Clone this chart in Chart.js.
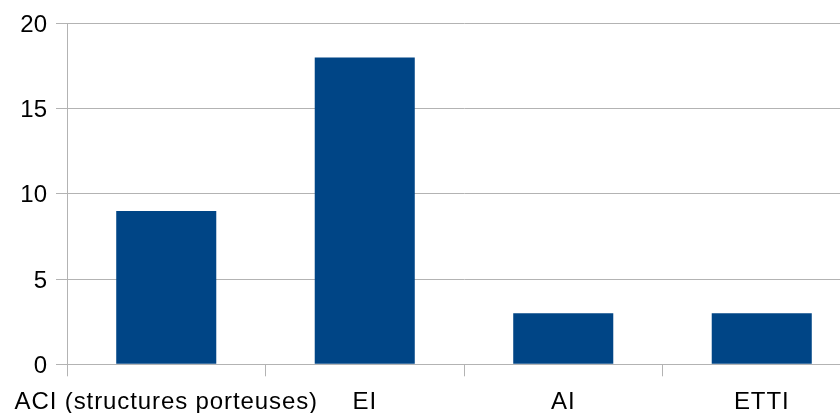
<!DOCTYPE html>
<html>
<head>
<meta charset="utf-8">
<script src="https://cdn.jsdelivr.net/npm/chart.js@4/dist/chart.umd.min.js"></script>
<style>
  html, body { margin: 0; padding: 0; background: #fff; overflow: hidden; }
  #wrap { width: 840px; height: 413px; overflow: hidden; position: relative; }
  #box { width: 861px; height: 413px; position: absolute; left: 0; top: 0; }
</style>
</head>
<body>
<div id="wrap"><div id="box"><canvas id="chart"></canvas></div></div>
<script>
// categories and counts
const categories = ["ACI (structures porteuses)", "EI", "AI", "ETTI"];
const counts = [9, 18, 3, 3];
const yTicks = [0, 5, 10, 15, 20];

const gridColor = "#b3b3b3";
const barColor = "#004586";
const font = { family: "'Liberation Sans', Arial, sans-serif", size: 24 };

// category labels are drawn slightly spaced out
function spaceLabels(scale) {
  if (scale._spaced) return;
  const orig = scale.drawLabels.bind(scale);
  scale.drawLabels = area => {
    const c = scale.ctx;
    c.save();
    c.letterSpacing = "0.9px";
    orig(area);
    c.restore();
  };
  scale._spaced = true;
}

const ctx = document.getElementById("chart").getContext("2d");

new Chart(ctx, {
  type: "bar",
  data: {
    labels: categories,
    datasets: [{
      data: counts,
      backgroundColor: barColor,
      borderWidth: 0,
      barPercentage: 0.504,
      categoryPercentage: 1
    }]
  },
  options: {
    responsive: true,
    maintainAspectRatio: false,
    animation: false,
    layout: { padding: { top: 23, right: 0, left: 0, bottom: 0 } },
    plugins: {
      legend: { display: false },
      tooltip: { enabled: false }
    },
    scales: {
      x: {
        afterFit: scale => { scale.height = 48.7; },
        afterUpdate: spaceLabels,
        grid: {
          offset: true,
          drawOnChartArea: false,
          drawTicks: true,
          tickLength: 12,
          color: gridColor,
          lineWidth: 1
        },
        border: { display: false },
        ticks: {
          color: "#000",
          font: font,
          padding: 12,
          maxRotation: 0,
          autoSkip: false
        }
      },
      y: {
        min: 0,
        max: 20,
        afterFit: scale => { scale.width = 67; },
        afterBuildTicks: scale => { scale.ticks = yTicks.map(v => ({ value: v })); },
        grid: {
          color: gridColor,
          lineWidth: 1,
          tickLength: 11
        },
        border: { display: true, color: gridColor },
        ticks: {
          color: "#000",
          font: font,
          padding: 9,
          labelOffset: 2
        }
      }
    }
  }
});
</script>
</body>
</html>
